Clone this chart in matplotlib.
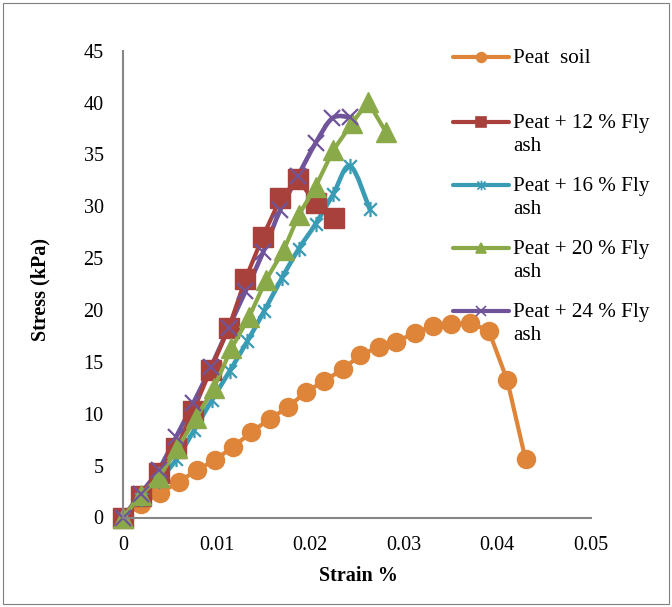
import matplotlib
matplotlib.use("Agg")
import matplotlib.pyplot as plt
from matplotlib.lines import Line2D
from matplotlib.patches import Rectangle, PathPatch
from matplotlib.path import Path

plt.rcParams['font.family'] = ['Liberation Serif', 'DejaVu Serif']

# --- data (strain as fraction, stress in kPa) ---
peat_strain = [0, 0.00195, 0.00394, 0.00597, 0.00794, 0.00982, 0.01179, 0.01371, 0.01567,
               0.01763, 0.01959, 0.02155, 0.02351, 0.0254, 0.02736, 0.02925, 0.03121,
               0.03318, 0.03513, 0.03709, 0.03912, 0.04109, 0.04305]
peat_stress = [0, 1.3, 2.33, 3.45, 4.58, 5.54, 6.82, 8.21, 9.5, 10.62, 12.13, 13.16, 14.31,
               15.66, 16.46, 16.95, 17.81, 18.46, 18.62, 18.78, 18.0, 13.25, 5.61]

fa12_strain = [0, 0.00195, 0.00383, 0.00572, 0.00751, 0.00936, 0.01132, 0.0131, 0.01492,
               0.01684, 0.01874, 0.02059, 0.02255]
fa12_stress = [0, 2.07, 4.26, 6.67, 10.27, 14.22, 18.3, 23.0, 27.0, 30.77, 32.6, 30.29, 28.84]

fa16_strain = [0, 0.0019, 0.0038, 0.0057, 0.0076, 0.0095, 0.0114, 0.0133, 0.0151, 0.017,
               0.0188, 0.0206, 0.0225, 0.0243, 0.0264]
fa16_stress = [0, 1.8, 3.5, 5.6, 8.4, 11.3, 14.1, 17.0, 19.9, 23.1, 25.9, 28.3, 31.2, 33.9, 29.7]

fa20_strain = [0, 0.0019, 0.0039, 0.0058, 0.0078, 0.0097, 0.0116, 0.0135, 0.0153, 0.0172,
               0.0188, 0.0206, 0.0225, 0.0245, 0.0262, 0.0281]
fa20_stress = [0, 2.17, 3.93, 6.67, 9.56, 12.45, 16.31, 19.36, 22.9, 25.8, 29.16, 31.9,
               35.43, 38.0, 40.08, 37.19]

fa24_strain = [0, 0.0019, 0.0038, 0.0057, 0.0075, 0.0094, 0.0113, 0.0131, 0.015, 0.0168,
               0.0187, 0.0206, 0.0224, 0.0243]
fa24_stress = [0, 2.3, 4.6, 7.8, 11.0, 14.5, 18.3, 21.8, 25.6, 29.6, 32.9, 36.1, 38.5, 38.6]

labels = ['Peat  soil', 'Peat + 12 % Fly\nash', 'Peat + 16 % Fly\nash',
          'Peat + 20 % Fly\nash', 'Peat + 24 % Fly\nash']
xticks = [0, 0.01, 0.02, 0.03, 0.04, 0.05]
xtick_labels = ['0', '0.01', '0.02', '0.03', '0.04', '0.05']
yticks = [0, 5, 10, 15, 20, 25, 30, 35, 40, 45]

# excel-ish star marker: vertical bar plus an x
star = Path([(-1, -1), (1, 1), (-1, 1), (1, -1), (0, -1.2), (0, 1.2)],
            [Path.MOVETO, Path.LINETO, Path.MOVETO, Path.LINETO, Path.MOVETO, Path.LINETO])

# (x, y, colour, marker, size, edge width, smoothed line?)
series = [
    (peat_strain, peat_stress, '#DE8539', 'o', 13, 1, False),
    (fa12_strain, fa12_stress, '#A8403C', 's', 14, 1, False),
    (fa16_strain, fa16_stress, '#3A9BB5', star, 11, 1.6, True),
    (fa20_strain, fa20_stress, '#8AAA4A', '^', 14, 1, False),
    (fa24_strain, fa24_stress, '#70549A', 'x', 12, 1.6, True),
]


def smooth_path(xs, ys):
    # catmull-rom -> cubic bezier, same idea as excel's "smoothed line"
    verts = [(xs[0], ys[0])]
    codes = [Path.MOVETO]
    n = len(xs)
    for i in range(n - 1):
        p0 = (xs[max(i - 1, 0)], ys[max(i - 1, 0)])
        p1 = (xs[i], ys[i])
        p2 = (xs[i + 1], ys[i + 1])
        p3 = (xs[min(i + 2, n - 1)], ys[min(i + 2, n - 1)])
        c1 = (p1[0] + (p2[0] - p0[0]) / 6, p1[1] + (p2[1] - p0[1]) / 6)
        c2 = (p2[0] - (p3[0] - p1[0]) / 6, p2[1] - (p3[1] - p1[1]) / 6)
        verts += [c1, c2, p2]
        codes += [Path.CURVE4] * 3
    return Path(verts, codes)


fig = plt.figure(figsize=(6.72, 6.07), dpi=100)
ax = fig.add_axes([123 / 672, 1 - 517.5 / 607, 467.5 / 672, 466.8 / 607])

for xs, ys, c, m, ms, mew, smooth in series:
    if smooth:
        ax.add_patch(PathPatch(smooth_path(xs, ys), fill=False, edgecolor=c, lw=3.3,
                               capstyle='round', joinstyle='round', clip_on=False))
        ax.plot(xs, ys, ls='none', marker=m, ms=ms, mfc=c, mec=c, mew=mew, clip_on=False)
    else:
        ax.plot(xs, ys, color=c, lw=3, marker=m, ms=ms, mfc=c, mec=c, mew=mew,
                solid_capstyle='round', solid_joinstyle='round', clip_on=False)

ax.set_xlim(0, 0.05)
ax.set_ylim(0, 45)
ax.set_xticks(xticks)
ax.set_xticklabels(xtick_labels)
ax.set_yticks(yticks)
ax.tick_params(axis='both', length=0, labelsize=14.5)
ax.tick_params(axis='x', pad=13)
ax.tick_params(axis='y', pad=14)
for s in ['top', 'right']:
    ax.spines[s].set_visible(False)
for s in ['left', 'bottom']:
    ax.spines[s].set_color('#868686')
    ax.spines[s].set_linewidth(1.5)

ax.set_xlabel('Strain %', fontsize=14.5, fontweight='bold')
ax.set_ylabel('Stress (kPa)', fontsize=14.5, fontweight='bold')
ax.xaxis.set_label_coords((358 - 123) / 467.5, (517.5 - 566) / 466.8)
ax.yaxis.set_label_coords((50 - 123) / 467.5, (517.5 - 290) / 466.8)

# manual legend, handle lined up with the first text line like excel does
row_y = [57, 122, 185, 248, 311]
for (xs, ys, c, m, ms, mew, smooth), lab, yp in zip(series, labels, row_y):
    yf = 1 - yp / 607
    fig.add_artist(Line2D([453 / 672, 481 / 672, 509 / 672], [yf, yf, yf],
                          transform=fig.transFigure, color=c, lw=3, marker=m,
                          markevery=[1], ms=7, mfc=c, mec=c, mew=1.2,
                          solid_capstyle='round'))
    fig.text(513 / 672, 1 - (yp - 8) / 607, lab, fontsize=15.2, va='top', ha='left',
             linespacing=1.28)

# thin border around the whole chart
fig.add_artist(Rectangle((3 / 672, 3 / 607), 666 / 672, 601 / 607, transform=fig.transFigure,
                         fill=False, edgecolor='#7f7f7f', lw=0.8))

fig.savefig('out.png', dpi=100)
